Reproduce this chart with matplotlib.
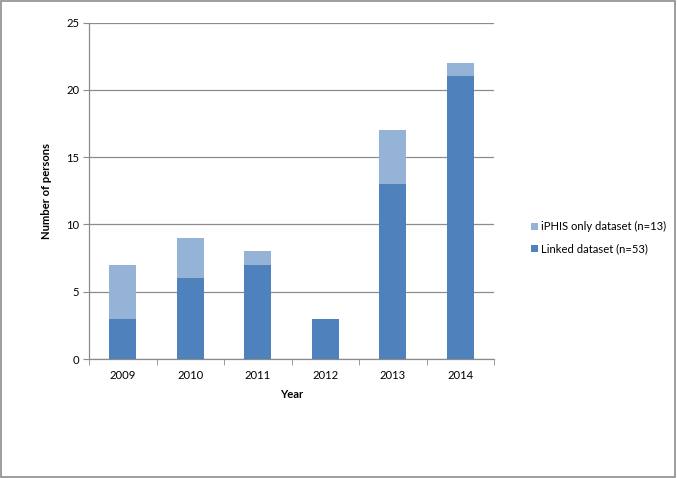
import matplotlib
matplotlib.use("Agg")
import matplotlib.pyplot as plt
from matplotlib.patches import Rectangle

years = ["2009", "2010", "2011", "2012", "2013", "2014"]
linked = [3, 6, 7, 3, 13, 21]
iphis_only = [4, 3, 1, 0, 4, 1]
label_iphis = "iPHIS only dataset (n=13)"
label_linked = "Linked dataset (n=53)"

plt.rcParams['font.family'] = ['Lato', 'DejaVu Sans']
fs = 8.1

W, H = 677, 478
fig = plt.figure(figsize=(W/100, H/100), dpi=100)
ax = fig.add_axes([89/W, 1-359/H, (494-89)/W, (359-22.5)/H])

x = list(range(len(years)))
dark = "#4F81BD"
light = "#95B3D7"
ax.bar(x, linked, width=0.4, color=dark, label=label_linked, zorder=3)
ax.bar(x, iphis_only, width=0.4, bottom=linked, color=light, label=label_iphis, zorder=3)

ax.set_xlim(-0.5, len(years)-0.5)
ax.set_ylim(0, 25)
ax.set_yticks([0, 5, 10, 15, 20, 25])
ax.set_xticks(x)
ax.set_xticklabels(years)
ax.yaxis.grid(True, color="#8c8c8c", linewidth=0.9, zorder=0)
for s in ["top", "right"]:
    ax.spines[s].set_visible(False)
for s in ["left", "bottom"]:
    ax.spines[s].set_color("#8c8c8c")
    ax.spines[s].set_linewidth(0.9)
ax.tick_params(axis='y', length=4, color="#8c8c8c", labelsize=fs, pad=3)
ax.tick_params(axis='x', length=0, labelsize=fs, pad=8)
ax.set_xticks([i-0.5 for i in range(len(years)+1)], minor=True)
ax.tick_params(axis='x', which='minor', length=4, color="#8c8c8c", direction='out')

ax.set_xlabel("Year", fontsize=fs, fontweight='bold', labelpad=6)
ax.set_ylabel("Number of persons", fontsize=fs, fontweight='bold', labelpad=10)

handles, labels = ax.get_legend_handles_labels()
leg = fig.legend(handles[::-1], labels[::-1], loc='center left',
                 bbox_to_anchor=(521/W, 1-238/H), frameon=False, fontsize=fs,
                 handlelength=0.6, handleheight=0.6, handletextpad=0.3,
                 labelspacing=1.0)

fig.patches.append(Rectangle((0.5/W, 1.5/H), (W-2.5)/W, (H-2.5)/H, transform=fig.transFigure,
                             fill=False, edgecolor="#8c8c8c", linewidth=1.2))

fig.savefig("out.png", dpi=100)
